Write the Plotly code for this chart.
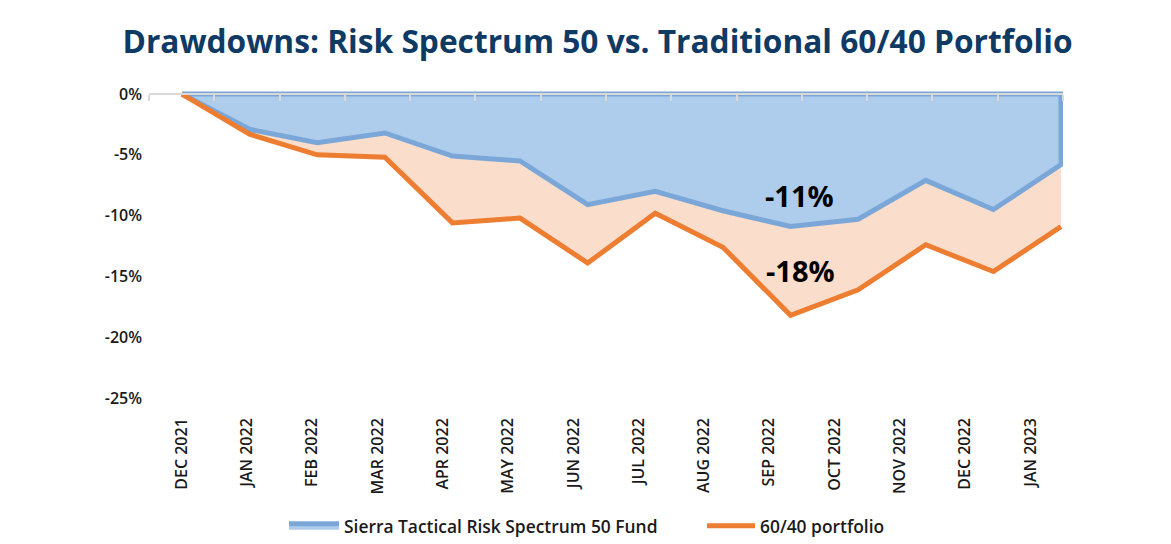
import plotly.graph_objects as go

categories = ["DEC 2021", "JAN 2022", "FEB 2022", "MAR 2022", "APR 2022", "MAY 2022",
              "JUN 2022", "JUL 2022", "AUG 2022", "SEP 2022", "OCT 2022", "NOV 2022",
              "DEC 2022", "JAN 2023"]
risk_spectrum_50 = [0.0, -2.9, -4.0, -3.2, -5.1, -5.5, -9.1, -8.0, -9.6, -10.9, -10.3, -7.1, -9.5, -5.8]
portfolio_60_40 = [0.0, -3.3, -5.0, -5.2, -10.6, -10.2, -13.9, -9.8, -12.6, -18.2, -16.1, -12.4, -14.6, -10.9]
y_ticks = [0, -5, -10, -15, -20, -25]
y_tick_labels = ["0%", "-5%", "-10%", "-15%", "-20%", "-25%"]
min_labels = ["-11%", "-18%"]

BLUE_LINE = "#7BA7D8"
BLUE_FILL = "#AECDEC"
ORANGE = "#ED7D31"
PEACH = "#FADDCB"
FONT = "Open Sans"
TXT = "#1a1a1a"

n = len(categories)
# x range: first point at the centre of the first label slot, last point at the right edge
r0, r1 = -0.488, n - 1 + 0.03
step = (r1 - r0) / n
label_pos = [r0 + step * (k + 0.5) for k in range(n)]
boundary_pos = [r0 + step * k for k in range(n + 1)]
ymin, ymax = -25.5, 0.5

# the page body adds an 8px offset; size the figure so the page fits the window
OFF = 8
W, H = 1171 - OFF, 544 - OFF
plot_l, plot_r, plot_t, plot_b = 149 - OFF, 1063 - OFF, 88 - OFF, 404 - OFF
ph = plot_b - plot_t
pw = plot_r - plot_l

fig = go.Figure()

# peach area under the 60/40 line (main x axis)
fig.add_trace(go.Scatter(x=categories, y=portfolio_60_40, xaxis="x", yaxis="y",
                         mode="lines", line=dict(width=0, color=PEACH),
                         fill="tozeroy", fillcolor=PEACH, showlegend=False,
                         hoverinfo="skip"))
# blue area with border (closed along the zero line)
fig.add_trace(go.Scatter(x=categories + [categories[-1], categories[0]],
                         y=risk_spectrum_50 + [0, 0], xaxis="x2", yaxis="y",
                         mode="lines", line=dict(width=5, color=BLUE_LINE),
                         fill="toself", fillcolor=BLUE_FILL,
                         name="Sierra Tactical Risk Spectrum 50 Fund", legend="legend"))
# orange line
fig.add_trace(go.Scatter(x=categories, y=portfolio_60_40, xaxis="x2", yaxis="y",
                         mode="lines", line=dict(width=5, color=ORANGE),
                         name="60/40 portfolio", legend="legend2"))

imin_b = risk_spectrum_50.index(min(risk_spectrum_50))
imin_o = portfolio_60_40.index(min(portfolio_60_40))
fig.add_annotation(x=categories[imin_b], y=min(risk_spectrum_50), xref="x2", yref="y",
                   text=min_labels[0], showarrow=False, xshift=9, yshift=31,
                   font=dict(family=FONT, size=29, color="#000000", weight=700))
fig.add_annotation(x=categories[imin_o], y=min(portfolio_60_40), xref="x2", yref="y",
                   text=min_labels[1], showarrow=False, xshift=10, yshift=45,
                   font=dict(family=FONT, size=29, color="#000000", weight=700))

leg_y = (plot_b - (526 - OFF)) / ph

fig.update_layout(
    template="none",
    width=W, height=H,
    margin=dict(l=plot_l, r=W - plot_r, t=plot_t, b=H - plot_b, autoexpand=False),
    plot_bgcolor="white", paper_bgcolor="white",
    font=dict(family=FONT, color=TXT),
    title=dict(text="Drawdowns: Risk Spectrum 50 vs. Traditional 60/40 Portfolio",
               x=(597.5 - OFF) / W, xanchor="center", y=1 - (42 - OFF) / H, yanchor="middle",
               font=dict(family=FONT, size=31.7, color="#0F3A64", weight=700)),
    xaxis=dict(type="category", categoryorder="array", categoryarray=categories,
               range=[r0, r1], tickmode="array", tickvals=label_pos,
               ticktext=categories, tickangle=-90, automargin=False,
               showgrid=False, zeroline=False, showline=False, ticks="",
               ticklabelstandoff=10,
               tickfont=dict(family=FONT, size=16, color=TXT, weight=600)),
    xaxis2=dict(type="category", categoryorder="array", categoryarray=categories,
                overlaying="x", anchor="free", automargin=False,
                position=(0 - ymin) / (ymax - ymin), side="bottom",
                range=[r0, r1], tickmode="array", tickvals=boundary_pos,
                ticks="outside", ticklen=6, tickcolor="#d9d9d9", tickwidth=1.5,
                showline=True, linecolor="#d9d9d9", linewidth=1.5,
                showticklabels=False, showgrid=False, zeroline=False),
    yaxis=dict(range=[ymin, ymax], tickmode="array", tickvals=y_ticks,
               ticktext=y_tick_labels, showgrid=False, zeroline=False,
               showline=False, ticks="", ticklabelstandoff=6, automargin=False,
               tickfont=dict(family=FONT, size=16, color=TXT, weight=600)),
    legend=dict(orientation="h", x=(284 - 149) / pw, xanchor="left",
                y=leg_y, yanchor="middle", bgcolor="rgba(0,0,0,0)", itemwidth=50,
                font=dict(family=FONT, size=17.4, color=TXT, weight=600)),
    legend2=dict(orientation="h", x=(702 - 149) / pw, xanchor="left",
                 y=leg_y, yanchor="middle", bgcolor="rgba(0,0,0,0)", itemwidth=48,
                 font=dict(family=FONT, size=17.4, color=TXT, weight=600)),
    showlegend=True,
)

fig.write_html("out.html")
